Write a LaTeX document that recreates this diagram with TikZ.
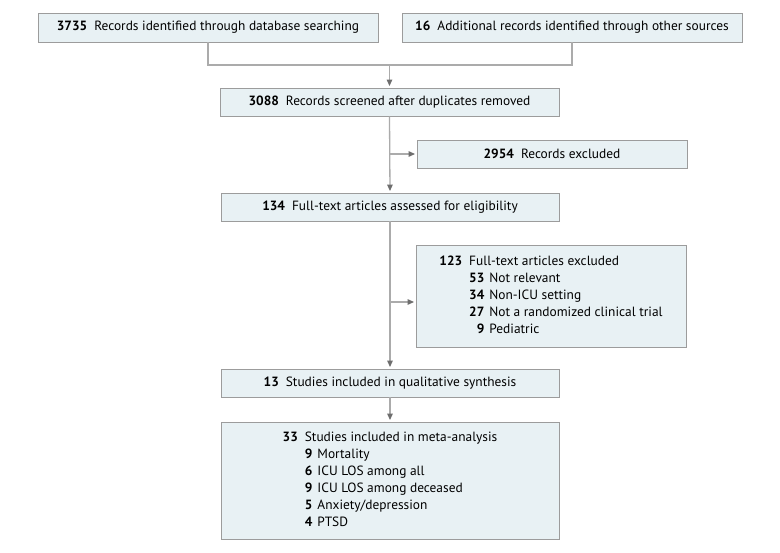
\documentclass[tikz,border=0pt]{standalone}
\usepackage{fontspec}
\setmainfont{PT Sans}
\usetikzlibrary{arrows.meta,calc}
\definecolor{boxfill}{HTML}{E8F1F4}
\definecolor{boxdraw}{HTML}{9C9C9C}
\definecolor{linecol}{HTML}{ABABAB}
\definecolor{tipcol}{HTML}{6E6E6E}
\newcommand{\nb}[1]{\textbf{#1}\hspace{7pt}}
\begin{document}
\begin{tikzpicture}[x=1pt,y=-1pt,
  box/.style={draw=boxdraw,fill=boxfill,line width=0.9pt,inner sep=0pt,font=\fontsize{13.4}{16.2}\selectfont,align=center},
  conn/.style={draw=linecol,line width=1.3pt},
  arr/.style={conn,-{Triangle[length=6.5pt,width=5.5pt,color=tipcol]},shorten >=1.5pt}]
\useasboundingbox (0,0) rectangle (780,553);
\fill[white] (0,0) rectangle (780,553);
\node[box,minimum width=340pt,minimum height=29pt] (b1) at (208,27.5) {\nb{3735}Records identified through database searching};
\node[box,minimum width=340pt,minimum height=29pt] (b2) at (572,27.5) {\nb{16}Additional records identified through other sources};
\node[box,minimum width=339pt,minimum height=28pt] (b3) at (389.5,102) {\nb{3088}Records screened after duplicates removed};
\node[box,minimum width=270pt,minimum height=28pt] (b4) at (552,154) {\nb{2954}Records excluded};
\node[box,minimum width=338pt,minimum height=28pt] (b5) at (390,207) {\nb{134}Full-text articles assessed for eligibility};
\node[box,minimum width=270pt,minimum height=102pt] (b6) at (551,296) {\renewcommand{\arraystretch}{1.05}%
\begin{tabular}{@{}r@{\hspace{7pt}}r@{\hspace{5pt}}l@{}}
\textbf{123} & \multicolumn{2}{@{}l@{}}{Full-text articles excluded}\\
 & \textbf{53} & Not relevant\\
 & \textbf{34} & Non-ICU setting\\
 & \textbf{27} & Not a randomized clinical trial\\
 & \textbf{9} & Pediatric
\end{tabular}};
\node[box,minimum width=338pt,minimum height=28pt] (b7) at (390,383) {\nb{13}Studies included in qualitative synthesis};
\node[box,minimum width=338pt,minimum height=117pt] (b8) at (390,480.5) {\renewcommand{\arraystretch}{1.05}%
\begin{tabular}{@{}r@{\hspace{7pt}}r@{\hspace{5pt}}l@{}}
\textbf{33} & \multicolumn{2}{@{}l@{}}{Studies included in meta-analysis}\\
 & \textbf{9} & Mortality\\
 & \textbf{6} & ICU LOS among all\\
 & \textbf{9} & ICU LOS among deceased\\
 & \textbf{5} & Anxiety/depression\\
 & \textbf{4} & PTSD
\end{tabular}};
% merge
\coordinate (m) at (b3.north |- 0,65);
\draw[conn] (b1.south) |- (m) -| (b2.south);
\draw[arr] (m) -- (b3.north);
% main spine
\draw[arr] (b3.south) -- (b5.north);
\draw[arr] (b5.south) -- (b7.north);
\draw[arr] (b7.south) -- (b8.north);
\coordinate (s1) at (b3.south |- b4.west);
\coordinate (s2) at (b5.south |- 0,302);
\draw[arr] (s1) -- (b4.west);
\draw[arr] (s2) -- (s2 -| b6.west);
\end{tikzpicture}
\end{document}
